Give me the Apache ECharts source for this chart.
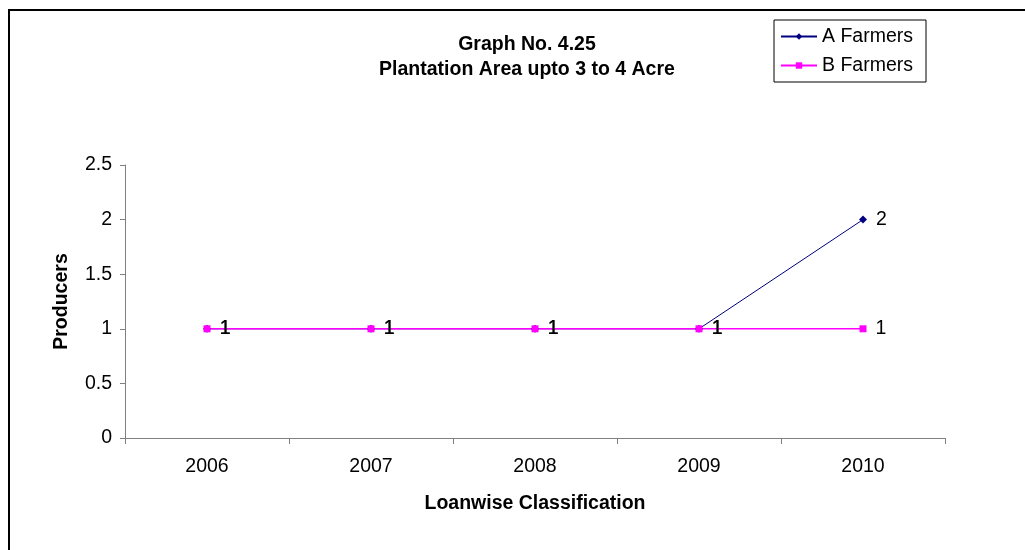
<!DOCTYPE html>
<html><head><meta charset="utf-8">
<script src="https://cdn.jsdelivr.net/npm/echarts@6/dist/echarts.min.js"></script>
<style>html,body{margin:0;padding:0;background:#fff}#c{width:1025px;height:550px}</style>
</head><body><div id="c"></div>
<script>
const categories = ['2006','2007','2008','2009','2010'];
const aFarmers = [1,1,1,1,2];
const bFarmers = [1,1,1,1,1];
const yTicks = [0,0.5,1,1.5,2,2.5];
const chart = echarts.init(document.getElementById('c'));
const font = 'Liberation Sans, Arial, sans-serif';
const fs = 19.5;
chart.setOption({
  animation:false,
  backgroundColor:'#fff',
  graphic:[{type:'rect',shape:{x:9,y:10,width:1100,height:600},style:{fill:'none',stroke:'#000',lineWidth:2},z:-1}],
  title:{text:'Graph No. 4.25\nPlantation Area upto 3 to 4 Acre',left:522,top:27,textAlign:'center',
    textStyle:{fontFamily:font,fontSize:fs,fontWeight:'bold',color:'#000',lineHeight:25}},
  legend:{orient:'vertical',left:774,top:20,padding:[6,13,6,6],itemGap:8,itemWidth:36,itemHeight:8,
    borderColor:'#000',borderWidth:1,textStyle:{fontFamily:font,fontSize:fs,color:'#000',lineHeight:21},
    data:['A Farmers','B Farmers']},
  grid:{left:125,right:80,top:165,bottom:112},
  xAxis:{type:'category',data:categories,boundaryGap:true,
    name:'Loanwise Classification',nameLocation:'middle',nameGap:56,
    nameTextStyle:{fontFamily:font,fontSize:fs,fontWeight:'bold',color:'#000'},
    axisLine:{lineStyle:{color:'#808080',width:1}},
    axisTick:{show:true,inside:false,length:6,alignWithLabel:false,lineStyle:{color:'#808080'}},
    axisLabel:{fontFamily:font,fontSize:fs,color:'#000',margin:19}},
  yAxis:{type:'value',min:yTicks[0],max:yTicks[yTicks.length-1],interval:yTicks[1]-yTicks[0],
    name:'Producers',nameLocation:'middle',nameGap:53,
    nameTextStyle:{fontFamily:font,fontSize:fs,fontWeight:'bold',color:'#000'},
    axisLine:{show:true,lineStyle:{color:'#808080',width:1}},
    axisTick:{show:true,length:5,lineStyle:{color:'#808080'}},
    splitLine:{show:false},
    axisLabel:{fontFamily:font,fontSize:fs,color:'#000',margin:13}},
  series:[
    {name:'A Farmers',type:'line',data:aFarmers,symbol:'diamond',symbolSize:8,
      itemStyle:{color:'#000080'},lineStyle:{color:'#000080',width:1},
      label:{show:true,position:'right',distance:9,fontFamily:font,fontSize:fs,color:'#000'}},
    {name:'B Farmers',type:'line',data:bFarmers,symbol:'rect',symbolSize:7,
      itemStyle:{color:'#FF00FF'},lineStyle:{color:'#FF00FF',width:1.5},
      label:{show:true,position:'right',distance:9,fontFamily:font,fontSize:fs,color:'#000'}}
  ]
});
</script></body></html>
